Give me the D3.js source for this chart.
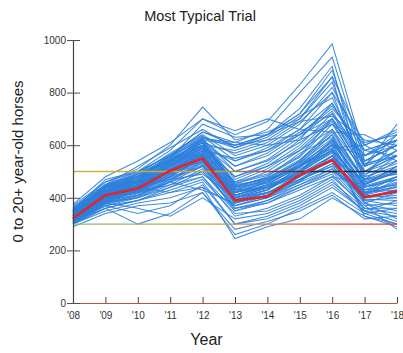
<!DOCTYPE html>
<html>
<head>
<meta charset="utf-8">
<script src="https://cdn.jsdelivr.net/npm/d3@7"></script>
<style>
  body { margin: 0; background: #fff; }
  text { font-family: "Liberation Sans", Arial, sans-serif; }
</style>
</head>
<body>
<svg id="chart" width="403" height="353"></svg>
<script>
// years on the x axis
const years = ['08', '09', '10', '11', '12', '13', '14', '15', '16', '17', '18']
const yTicks = [0, 200, 400, 600, 800, 1000]
const refLevels = [500, 300]

// the highlighted run
const typical = [322, 410, 435, 503, 550, 390, 405, 487, 543, 402, 425]

// all simulated trials, one row per trial ('08 .. '18)
const trials = [
    [360, 450, 500, 580, 700, 640, 690, 830, 985, 560, 620],
    [350, 430, 470, 560, 650, 610, 660, 800, 935, 540, 600],
    [340, 420, 480, 540, 620, 600, 640, 720, 885, 520, 640],
    [370, 460, 510, 600, 745, 620, 650, 700, 860, 600, 660],
    [330, 410, 460, 520, 600, 580, 620, 700, 840, 500, 580],
    [355, 440, 490, 570, 640, 560, 600, 680, 820, 580, 560],
    [345, 420, 470, 530, 610, 570, 610, 690, 800, 480, 620],
    [365, 450, 520, 590, 660, 590, 630, 710, 780, 520, 680],
    [325, 400, 450, 510, 590, 540, 590, 660, 760, 540, 600],
    [350, 470, 500, 560, 630, 600, 620, 640, 740, 600, 540],
    [340, 430, 480, 540, 610, 520, 570, 650, 720, 560, 640],
    [360, 440, 470, 550, 680, 630, 640, 690, 710, 620, 600],
    [330, 390, 440, 500, 580, 550, 580, 640, 700, 500, 560],
    [345, 425, 465, 535, 625, 610, 600, 620, 680, 580, 620],
    [375, 480, 540, 610, 700, 655, 700, 660, 650, 640, 580],
    [350, 440, 480, 560, 650, 600, 640, 740, 900, 450, 520],
    [340, 450, 490, 550, 630, 590, 640, 720, 860, 420, 480],
    [335, 425, 470, 535, 600, 500, 540, 610, 700, 560, 600],
    [345, 435, 480, 545, 620, 520, 560, 640, 750, 580, 620],
    [325, 415, 455, 525, 590, 480, 520, 580, 660, 500, 540],
    [355, 445, 495, 565, 635, 540, 580, 660, 800, 610, 640],
    [340, 440, 490, 555, 625, 500, 545, 630, 730, 530, 560],
    [320, 410, 430, 500, 550, 390, 410, 490, 545, 400, 430],
    [330, 400, 420, 480, 560, 420, 450, 520, 620, 440, 480],
    [310, 380, 410, 470, 540, 400, 430, 500, 600, 420, 460],
    [340, 420, 450, 520, 580, 440, 470, 540, 660, 460, 500],
    [300, 370, 400, 460, 520, 370, 400, 460, 560, 380, 420],
    [335, 430, 470, 540, 600, 450, 500, 580, 690, 480, 520],
    [315, 395, 420, 490, 530, 380, 420, 470, 520, 390, 400],
    [325, 415, 445, 510, 570, 410, 440, 510, 580, 430, 450],
    [345, 440, 460, 530, 590, 430, 460, 530, 640, 470, 540],
    [305, 380, 400, 450, 510, 360, 390, 450, 500, 370, 380],
    [320, 400, 440, 500, 560, 400, 420, 480, 560, 420, 440],
    [330, 420, 430, 490, 540, 390, 430, 520, 600, 410, 470],
    [350, 450, 480, 550, 610, 460, 490, 560, 700, 500, 560],
    [310, 390, 430, 480, 550, 410, 450, 490, 540, 400, 410],
    [340, 410, 450, 510, 580, 430, 440, 500, 620, 450, 500],
    [300, 360, 390, 440, 500, 360, 380, 440, 490, 360, 360],
    [325, 405, 425, 505, 565, 395, 415, 495, 575, 415, 455],
    [335, 425, 455, 515, 595, 445, 475, 545, 650, 470, 510],
    [315, 385, 415, 475, 525, 385, 405, 465, 530, 395, 390],
    [345, 435, 475, 545, 615, 455, 485, 555, 680, 490, 530],
    [310, 400, 420, 480, 520, 380, 410, 460, 510, 380, 350],
    [330, 410, 440, 510, 570, 420, 460, 530, 610, 440, 470],
    [320, 390, 410, 460, 500, 370, 410, 480, 540, 400, 420],
    [340, 430, 460, 500, 560, 410, 450, 520, 590, 430, 450],
    [305, 375, 405, 465, 535, 390, 420, 470, 520, 390, 370],
    [350, 440, 470, 530, 600, 440, 480, 570, 630, 470, 490],
    [325, 420, 450, 520, 580, 420, 440, 490, 560, 420, 430],
    [315, 400, 430, 490, 550, 400, 430, 500, 570, 410, 440],
    [315, 395, 435, 495, 555, 410, 445, 505, 585, 440, 470],
    [335, 405, 445, 505, 565, 425, 455, 515, 605, 455, 495],
    [320, 420, 465, 525, 585, 445, 475, 535, 625, 465, 505],
    [305, 385, 425, 485, 545, 405, 435, 485, 545, 415, 445],
    [330, 400, 440, 510, 575, 435, 465, 525, 615, 445, 480],
    [360, 460, 500, 560, 620, 470, 520, 600, 720, 520, 580],
    [350, 430, 490, 540, 600, 480, 530, 620, 760, 540, 600],
    [330, 410, 460, 530, 590, 460, 510, 590, 700, 520, 560],
    [320, 420, 440, 470, 490, 400, 440, 500, 580, 450, 520],
    [310, 390, 420, 450, 480, 350, 390, 440, 500, 430, 480],
    [340, 400, 420, 460, 430, 380, 410, 470, 530, 410, 400],
    [325, 395, 440, 420, 440, 370, 400, 450, 510, 400, 430],
    [315, 405, 450, 500, 560, 430, 470, 520, 600, 560, 620],
    [335, 415, 445, 495, 540, 420, 460, 520, 590, 600, 650],
    [300, 380, 430, 490, 570, 410, 440, 490, 560, 350, 330],
    [345, 445, 485, 545, 610, 450, 470, 520, 580, 330, 300],
    [320, 410, 450, 520, 610, 440, 460, 540, 640, 380, 320],
    [330, 380, 410, 470, 520, 350, 380, 430, 480, 450, 500],
    [310, 420, 460, 510, 570, 390, 420, 470, 550, 470, 560],
    [310, 360, 300, 340, 420, 260, 300, 360, 420, 340, 300],
    [300, 350, 380, 400, 440, 245, 290, 320, 400, 330, 290],
    [320, 370, 390, 420, 460, 300, 330, 380, 450, 350, 310],
    [290, 340, 370, 380, 420, 280, 310, 350, 410, 320, 330],
    [305, 380, 360, 330, 400, 320, 340, 390, 460, 360, 340],
    [315, 385, 400, 440, 480, 330, 360, 410, 480, 370, 280],
    [300, 360, 390, 430, 470, 340, 350, 400, 470, 340, 360],
    [310, 370, 340, 370, 450, 300, 320, 370, 440, 350, 390]
]

const svg = d3.select('#chart')

const x = d3.scalePoint().domain(years).range([73, 397])
const y = d3.scaleLinear().domain([0, 1000]).range([303, 40])

const line = d3.line().x((d, i) => x(years[i])).y(d => y(d))

// gradients for the two reference lines
const defs = svg.append('defs')
const grads = [
    { id: 'ref500', stops: [['0%', '#c9b640'], ['45%', '#c8a040'], ['60%', '#a04040'], ['75%', '#2a2a3a'], ['100%', '#2a2a3a']] },
    { id: 'ref300', stops: [['0%', '#7fbf6a'], ['40%', '#c0a848'], ['70%', '#d06a3a'], ['100%', '#d0402c']] }
]
grads.forEach(g => {
    const lg = defs.append('linearGradient').attr('id', g.id)
        .attr('gradientUnits', 'userSpaceOnUse')
        .attr('x1', x.range()[0]).attr('x2', x.range()[1])
        .attr('y1', 0).attr('y2', 0)
    g.stops.forEach(s => lg.append('stop').attr('offset', s[0]).attr('stop-color', s[1]))
})

// spaghetti of trials
svg.append('g').selectAll('path')
    .data(trials)
    .enter()
    .append('path')
    .attr('d', line)
    .attr('fill', 'none')
    .attr('stroke', '#2c80dc')
    .attr('stroke-width', 1.05)
    .attr('stroke-opacity', 0.9)

// reference levels
svg.append('g').selectAll('line')
    .data(refLevels)
    .enter()
    .append('line')
    .attr('x1', x.range()[0])
    .attr('x2', x.range()[1])
    .attr('y1', d => y(d))
    .attr('y2', d => y(d))
    .attr('stroke', (d, i) => `url(#${grads[i].id})`)
    .attr('stroke-width', 1.3)

// most typical trial
svg.append('path')
    .attr('d', line(typical))
    .attr('fill', 'none')
    .attr('stroke', '#e3242b')
    .attr('stroke-width', 2.6)
    .attr('stroke-linejoin', 'round')

// axes
const xAxis = svg.append('g')
    .attr('transform', `translate(0,${y(0)})`)
    .call(d3.axisBottom(x).tickSizeInner(-6).tickSizeOuter(0).tickPadding(9).tickFormat(d => "'" + d))
xAxis.select('.domain').attr('stroke', '#b0584a').attr('stroke-width', 1.2)
xAxis.selectAll('.tick line').attr('stroke', '#444')
xAxis.selectAll('text').attr('font-size', 10).attr('fill', '#333')
    .attr('font-family', '"Liberation Sans", Arial, sans-serif')

const yAxis = svg.append('g')
    .attr('transform', `translate(${x.range()[0]},0)`)
    .call(d3.axisLeft(y).tickValues(yTicks).tickFormat(d3.format('d')).tickSizeInner(6).tickSizeOuter(0).tickPadding(1))
yAxis.select('.domain').attr('stroke', '#4a4040').attr('stroke-width', 1.2)
yAxis.selectAll('.tick line').attr('x1', 7).attr('stroke', '#5a4848')
yAxis.selectAll('text').attr('font-size', 10).attr('fill', '#333')
    .attr('font-family', '"Liberation Sans", Arial, sans-serif')

// titles
svg.append('text')
    .attr('x', 200).attr('y', 21)
    .attr('text-anchor', 'middle')
    .attr('font-size', 14.5)
    .attr('fill', '#222')
    .text('Most Typical Trial')

svg.append('text')
    .attr('transform', 'translate(22.5,161.5) rotate(-90)')
    .attr('text-anchor', 'middle')
    .attr('font-size', 15)
    .attr('fill', '#222')
    .text('0 to 20+ year-old horses')

svg.append('text')
    .attr('x', 206.5).attr('y', 345)
    .attr('text-anchor', 'middle')
    .attr('font-size', 16)
    .attr('fill', '#222')
    .text('Year')
</script>
</body>
</html>
